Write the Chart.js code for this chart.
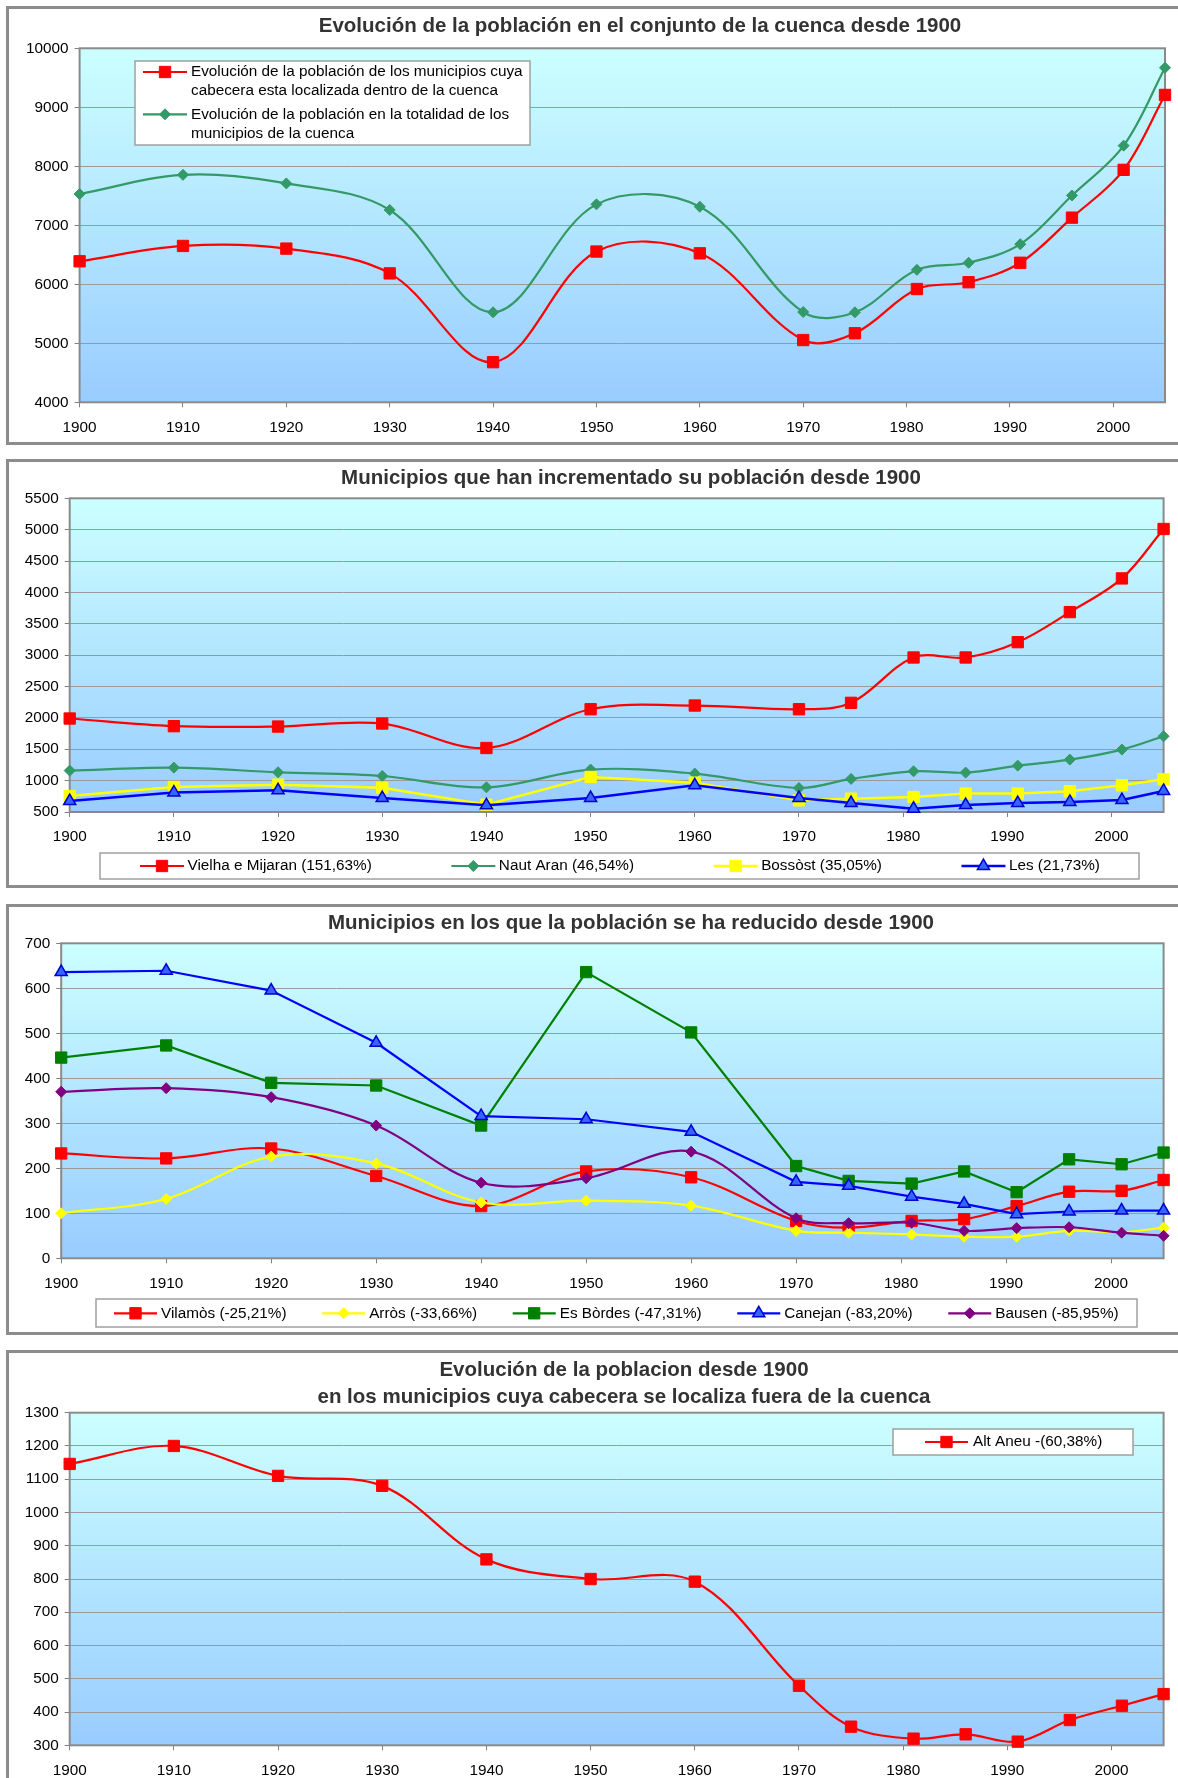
<!DOCTYPE html>
<html>
<head>
<meta charset="utf-8">
<script src="https://cdn.jsdelivr.net/npm/chart.js@4/dist/chart.umd.min.js"></script>
<style>
  html, body { margin: 0; padding: 0; background: #fff; overflow: hidden; }
  body { width: 1178px; height: 1778px; position: relative; }
  .frame { position: absolute; left: 6px; border: 3px solid #8c8c8c; background: #fff; }
  .frame canvas { display: block; }
</style>
</head>
<body>
<div class="frame" style="top:6px"><canvas id="chart1" width="1262" height="433"></canvas></div>
<div class="frame" style="top:459px"><canvas id="chart2" width="1244" height="423"></canvas></div>
<div class="frame" style="top:904px"><canvas id="chart3" width="1244" height="425"></canvas></div>
<div class="frame" style="top:1350px"><canvas id="chart4" width="1230" height="432"></canvas></div>

<script>
// census years (x values) and the labelled ticks on the x axis
const years = [1900, 1910, 1920, 1930, 1940, 1950, 1960, 1970, 1975, 1981, 1986, 1991, 1996, 2001, 2005];
const xTicks = [1900, 1910, 1920, 1930, 1940, 1950, 1960, 1970, 1980, 1990, 2000];

// chart 1 - conjunto de la cuenca
const dentroCuenca = [6390, 6650, 6605, 6185, 4680, 6555, 6525, 5055, 5170, 5920, 6035, 6365, 7130, 7940, 9210];
const totalCuenca = [7530, 7855, 7710, 7260, 5525, 7355, 7315, 5530, 5525, 6245, 6365, 6680, 7505, 8350, 9670];
const yTicks1 = [4000, 5000, 6000, 7000, 8000, 9000, 10000];

// chart 2 - municipios que crecen
const vielha = [1990, 1868, 1862, 1910, 1520, 2138, 2197, 2138, 2240, 2963, 2963, 3207, 3686, 4223, 5011];
const nautAran = [1160, 1207, 1133, 1074, 893, 1176, 1112, 883, 1027, 1149, 1128, 1239, 1335, 1495, 1707];
const bossost = [755, 899, 936, 888, 617, 1059, 968, 686, 713, 739, 793, 793, 830, 926, 1021];
const les = [675, 809, 846, 723, 606, 723, 926, 723, 643, 553, 611, 643, 660, 691, 835];
const yTicks2 = [500, 1000, 1500, 2000, 2500, 3000, 3500, 4000, 4500, 5000, 5500];

// chart 3 - municipios que pierden poblacion
const vilamos = [233, 222, 244, 183, 116, 193, 180, 83, 68, 83, 87, 116, 148, 150, 174];
const arros = [100, 132, 226, 211, 124, 128, 117, 61, 57, 53, 48, 48, 61, 58, 68];
const esBordes = [446, 473, 390, 384, 295, 636, 502, 205, 172, 166, 193, 147, 220, 209, 235];
const canejan = [636, 639, 595, 479, 316, 309, 281, 170, 161, 137, 121, 98, 104, 106, 106];
const bausen = [370, 378, 358, 295, 168, 178, 237, 89, 78, 79, 61, 67, 69, 57, 50];
const yTicks3 = [0, 100, 200, 300, 400, 500, 600, 700];

// chart 4 - cabecera fuera de la cuenca
const altAneu = [1146, 1200, 1110, 1080, 859, 800, 792, 479, 356, 320, 333, 311, 376, 419, 454];
const yTicks4 = [300, 400, 500, 600, 700, 800, 900, 1000, 1100, 1200, 1300];

const FONT = "'Liberation Sans', Arial, Helvetica, sans-serif";
Chart.defaults.font.family = FONT;
Chart.defaults.font.size = 15.3;
Chart.defaults.color = '#000';

const markerSize = { rect: 8, rectRot: 5.5, triangle: 7 };

function serie(label, values, color, marker, extra) {
    return Object.assign({
        label: label,
        data: years.map((x, i) => ({ x: x, y: values[i] })),
        borderColor: color,
        backgroundColor: color,
        borderWidth: 2.2,
        pointStyle: marker,
        pointRadius: markerSize[marker],
        pointBackgroundColor: color,
        pointBorderColor: color,
        pointBorderWidth: 1,
        tension: 0.35,
        clip: false
    }, extra);
}

// excel draws the later series on top
function stackOrder(datasets) {
    datasets.forEach((ds, i) => { ds.order = datasets.length - i; });
    return datasets;
}

// legend drawn inside the frame like the spreadsheet one
function drawLegend(chart, cfg) {
    const ctx = chart.ctx;
    const [bx, by, bw, bh] = cfg.box;
    ctx.save();
    ctx.fillStyle = '#fff';
    ctx.fillRect(bx, by, bw, bh);
    ctx.strokeStyle = '#a0a0a0';
    ctx.lineWidth = 1.5;
    ctx.strokeRect(bx, by, bw, bh);
    ctx.font = '15.3px ' + FONT;
    ctx.textBaseline = 'middle';
    ctx.textAlign = 'left';
    let x = cfg.x, y = cfg.y;
    chart.data.datasets.forEach(ds => {
        const lines = ds.label.split('\n');
        ctx.strokeStyle = ds.borderColor;
        ctx.lineWidth = ds.borderWidth;
        ctx.beginPath();
        ctx.moveTo(x, y);
        ctx.lineTo(x + cfg.lineLength, y);
        ctx.stroke();
        ctx.fillStyle = ds.pointBackgroundColor;
        ctx.strokeStyle = ds.pointBorderColor;
        ctx.lineWidth = ds.pointBorderWidth;
        Chart.helpers.drawPoint(ctx, {
            pointStyle: ds.pointStyle, radius: ds.pointRadius,
            borderWidth: ds.pointBorderWidth, rotation: 0
        }, x + cfg.lineLength / 2, y);
        ctx.fillStyle = '#000';
        lines.forEach((t, k) => ctx.fillText(t, x + cfg.textOffset, y + k * (cfg.lineStep || 0)));
        if (cfg.column) {
            y += cfg.itemStep;
        } else {
            x += cfg.textOffset + Math.max(...lines.map(t => ctx.measureText(t).width)) + cfg.gap;
        }
    });
    ctx.restore();
}

const plotFrame = {
    id: 'plotFrame',
    beforeDraw(chart) {
        const { ctx, chartArea: a } = chart;
        const g = ctx.createLinearGradient(0, a.top, 0, a.bottom);
        g.addColorStop(0, '#ccffff');
        g.addColorStop(1, '#99ccff');
        ctx.save();
        ctx.fillStyle = g;
        ctx.fillRect(a.left, a.top, a.width, a.height);
        ctx.restore();
    },
    beforeDatasetsDraw(chart) {
        const { ctx, chartArea: a } = chart;
        ctx.save();
        ctx.strokeStyle = '#8a8a8a';
        ctx.lineWidth = 2;
        ctx.strokeRect(a.left, a.top, a.width, a.height);
        ctx.restore();
    },
    afterDraw(chart, args, opts) {
        if (opts && opts.legend) drawLegend(chart, opts.legend);
    }
};
Chart.register(plotFrame);

function chartOptions(cfg) {
    return {
        responsive: false,
        animation: false,
        events: [],
        layout: { padding: 0 },
        plugins: {
            legend: { display: false },
            tooltip: { enabled: false },
            title: {
                display: true,
                text: cfg.title,
                color: '#333',
                font: { size: 20.5, weight: 'bold', lineHeight: cfg.titleLine || 1.2 },
                padding: cfg.titlePad
            },
            plotFrame: { legend: cfg.legend }
        },
        scales: {
            x: {
                type: 'linear',
                min: years[0],
                max: years[years.length - 1],
                afterBuildTicks: s => { s.ticks = xTicks.map(v => ({ value: v })); },
                afterFit: s => { s.height = cfg.xHeight; },
                grid: { drawOnChartArea: false, tickLength: 5, tickColor: '#808080' },
                border: { display: false },
                ticks: { callback: v => String(v), padding: 11, maxRotation: 0, autoSkip: false }
            },
            y: {
                type: 'linear',
                min: cfg.yTicks[0],
                max: cfg.yTicks[cfg.yTicks.length - 1],
                afterBuildTicks: s => { s.ticks = cfg.yTicks.map(v => ({ value: v })); },
                afterFit: s => { s.width = cfg.yWidth; },
                grid: { color: '#9a9a9a', lineWidth: 1, tickLength: 5, tickColor: '#808080' },
                border: { display: false },
                ticks: { callback: v => String(v), padding: 6 }
            },
            pad: {
                type: 'linear',
                position: 'right',
                grid: { display: false },
                border: { display: false },
                ticks: { display: false },
                afterFit: s => { s.width = cfg.rightPad; }
            }
        }
    };
}

const blueTri = { pointBackgroundColor: '#3366ff', pointBorderColor: '#0000cc', pointBorderWidth: 1.5 };

// chart 1
new Chart(document.querySelector('#chart1').getContext('2d'), {
    type: 'line',
    data: {
        datasets: stackOrder([
            serie('Evolución de la población de los municipios cuya\ncabecera esta localizada dentro de la cuenca', dentroCuenca, '#ff0000', 'rect'),
            serie('Evolución de la población en la totalidad de los\nmunicipios de la cuenca', totalCuenca, '#339966', 'rectRot')
        ])
    },
    options: chartOptions({
        title: 'Evolución de la población en el conjunto de la cuenca desde 1900',
        titlePad: { top: 4.7, bottom: 10 },
        yTicks: yTicks1, yWidth: 70.6, xHeight: 39.7, rightPad: 106,
        legend: { box: [126, 52, 395, 84], x: 134, y: 63, lineLength: 44, textOffset: 48, column: true, itemStep: 42.3, lineStep: 19 }
    })
});

// chart 2
new Chart(document.querySelector('#chart2').getContext('2d'), {
    type: 'line',
    data: {
        datasets: stackOrder([
            serie('Vielha e Mijaran (151,63%)', vielha, '#ff0000', 'rect'),
            serie('Naut Aran (46,54%)', nautAran, '#339966', 'rectRot'),
            serie('Bossòst (35,05%)', bossost, '#ffff00', 'rect', { borderWidth: 2.5, tension: 0 }),
            serie('Les (21,73%)', les, '#0000ff', 'triangle', Object.assign({ borderWidth: 2.5, tension: 0 }, blueTri))
        ])
    },
    options: chartOptions({
        title: 'Municipios que han incrementado su población desde 1900',
        titlePad: { top: 4.5, bottom: 7.2 },
        yTicks: yTicks2, yWidth: 60.7, xHeight: 73, rightPad: 89.4,
        legend: { box: [91, 391, 1039, 26], x: 131, y: 404, lineLength: 44, textOffset: 47.5, gap: 79.6 }
    })
});

// chart 3
new Chart(document.querySelector('#chart3').getContext('2d'), {
    type: 'line',
    data: {
        datasets: stackOrder([
            serie('Vilamòs (-25,21%)', vilamos, '#ff0000', 'rect'),
            serie('Arròs (-33,66%)', arros, '#ffff00', 'rectRot'),
            serie('Es Bòrdes (-47,31%)', esBordes, '#008000', 'rect', { tension: 0 }),
            serie('Canejan (-83,20%)', canejan, '#0000ff', 'triangle', Object.assign({ tension: 0 }, blueTri)),
            serie('Bausen (-85,95%)', bausen, '#800080', 'rectRot')
        ])
    },
    options: chartOptions({
        title: 'Municipios en los que la población se ha reducido desde 1900',
        titlePad: { top: 4, bottom: 7.7 },
        yTicks: yTicks3, yWidth: 52.2, xHeight: 73.7, rightPad: 89.4,
        legend: { box: [87, 392, 1041, 28], x: 105, y: 406.3, lineLength: 43, textOffset: 47, gap: 35.6 }
    })
});

// chart 4
new Chart(document.querySelector('#chart4').getContext('2d'), {
    type: 'line',
    data: {
        datasets: [
            serie('Alt Aneu -(60,38%)', altAneu, '#ff0000', 'rect')
        ]
    },
    options: chartOptions({
        title: ['Evolución de la poblacion desde 1900', 'en los municipios cuya cabecera se localiza fuera de la cuenca'],
        titleLine: 1.283,
        titlePad: { top: 4.55, bottom: 2.55 },
        yTicks: yTicks4, yWidth: 60.7, xHeight: 39.7, rightPad: 75.4,
        legend: { box: [884, 76, 240, 26], x: 916, y: 89, lineLength: 43, textOffset: 48, gap: 0 }
    })
});
</script>
</body>
</html>
